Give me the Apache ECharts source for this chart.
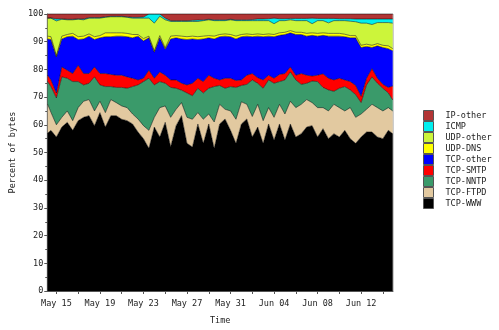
<!DOCTYPE html>
<html>
<head>
<meta charset="utf-8">
<script src="https://cdn.jsdelivr.net/npm/echarts@6/dist/echarts.min.js"></script>
<style>
  html, body { margin: 0; padding: 0; background: #fff; }
  #chart { width: 499px; height: 330px; }
</style>
</head>
<body>
<div id="chart"></div>
<script>
// x positions in days, day 1 = May 15
const days = [0.2, 0.5, 1, 1.5, 2, 2.5, 3, 3.5, 4, 4.5, 5, 5.5, 6, 6.5, 7, 7.5, 8, 8.5, 9, 9.5,
  10, 10.5, 11, 11.5, 12, 12.5, 13, 13.5, 14, 14.5, 15, 15.5, 16, 16.5, 17, 17.5, 18, 18.5, 19, 19.5,
  20, 20.5, 21, 21.5, 22, 22.5, 23, 23.5, 24, 24.5, 25, 25.5, 26, 26.5, 27, 27.5, 28, 28.5, 29, 29.5,
  30, 30.5, 31, 31.5, 31.9]

const labelDays = [1, 5, 9, 13, 17, 21, 25, 29]
const tickLabels = ['May 15', 'May 19', 'May 23', 'May 27', 'May 31', 'Jun 04', 'Jun 08', 'Jun 12']
const tickDays = [1, 3, 5, 7, 9, 11, 13, 15, 17, 19, 21, 23, 25, 27, 29, 31]

// percent of bytes per protocol
const tcpWww = [57, 58, 55.6, 59.2, 60.9, 58, 61.5, 62.7, 63.3, 59.7, 64.4, 59.2, 63.3, 63.3, 62, 61.5, 60.3, 57.4, 55, 51.5,
  59.2, 55.6, 60.9, 52.1, 59.7, 63.3, 53.3, 52, 60.3, 53.3, 60.3, 51.5, 60.3, 62.1, 58, 53.3, 60.3, 62.1, 55.6, 59.2,
  53.3, 60.3, 54.5, 60.3, 54.5, 60.3, 55.6, 56.8, 59.2, 59.7, 55.6, 58.6, 55, 56.8, 55.6, 58, 55, 53.3, 55.6, 57.4,
  57.4, 55.6, 55, 58, 56.8]
const tcpFtpd = [10.4, 6.5, 4.4, 3.5, 4.1, 3.5, 4.7, 5.8, 5.8, 5.3, 4.1, 5.2, 5.8, 4.7, 4.8, 4.7, 3.6, 4.7, 4.7, 6.5,
  3.5, 10.6, 5.9, 10.6, 5.9, 4.7, 9.4, 10, 4.1, 8.7, 3.6, 9.5, 7.1, 3.5, 7, 8.7, 8, 5.3, 7.4, 8.2,
  8.2, 5.9, 8.2, 7.1, 9.4, 8.2, 10.6, 10.6, 9.9, 8.3, 10.6, 7.6, 10, 10.6, 10.6, 7, 11.2, 9.4, 8.3, 8.2,
  10, 10.6, 10, 8.2, 8.2]
const tcpNntp = [8.2, 9.3, 9.7, 14.6, 11.8, 14.1, 9.4, 5.9, 5.9, 12.3, 5.9, 9.4, 4.7, 5.5, 6.7, 7.0, 9.9, 12.3, 15.9, 18.8,
  11.7, 9.4, 8.2, 10.8, 7.6, 4.5, 8.8, 8.5, 8.8, 9.5, 9.3, 12.8, 6.8, 7.6, 8.8, 11.5, 5.9, 7.2, 13.2, 7.6,
  11.7, 10, 12.3, 8.2, 12.3, 10.6, 10, 7.2, 5.9, 7.8, 9.4, 7.3, 7.6, 4.7, 7, 8.8, 6.4, 8.2, 4.1, 8.8,
  9.9, 8.8, 8.2, 5.3, 4]
const tcpSmtp = [2.3, 2.4, 1.8, 3.6, 2.9, 2.9, 5.9, 4.1, 3.5, 3.6, 4.1, 4.7, 4.4, 4.4, 4.4, 4.1, 3.0, 1.8, 1.2, 2.9,
  2.4, 3.5, 2.9, 2.7, 3.0, 2.5, 2.9, 4.5, 3.6, 4.1, 4.7, 3.0, 2.0, 3.6, 3, 2.5, 2, 3.3, 2.3, 2,
  3, 1.7, 1.8, 2.6, 2.3, 1.8, 1.7, 3.9, 2.9, 1.8, 2.3, 4.9, 4.2, 4.1, 3.6, 2.4, 3, 3.3, 2.3, 2.4,
  3, 1.8, 1.4, 2, 5]
const tcpOther = [13.1, 14.6, 13.0, 10.1, 12.1, 13.5, 9.3, 12.5, 13.5, 9.9, 12.9, 13.3, 13.6, 14.1, 14.1, 14.5, 14.6, 15.8, 13.5, 11.7,
  9.4, 12.3, 9.4, 14.8, 15.2, 16.0, 16.4, 16, 14, 15.4, 13.5, 14.2, 15.6, 15.2, 15, 15, 15.6, 14.1, 13.3, 15,
  15.6, 14.1, 15, 14.1, 14.1, 12.3, 14.7, 14.1, 14.1, 14.7, 14.1, 13.9, 15.2, 15.8, 15.2, 15.6, 15.8, 17.2, 17.6, 11.5,
  7.6, 11.7, 13.3, 14, 12.7]
const udpDns = [1.0, 1.0, 0.5, 1.0, 0.8, 1.0, 1.0, 1.0, 0.8, 1.0, 0.8, 1.4, 1.4, 1.2, 1.2, 1.2, 1.2, 0.6, 0.8, 0.6,
  0.5, 0.8, 0.5, 1.0, 0.8, 1.0, 1.0, 1.0, 1.0, 1.0, 0.8, 1.0, 0.8, 0.8, 0.8, 1.0, 0.8, 0.8, 0.8, 0.8,
  0.8, 0.8, 0.8, 0.9, 0.8, 0.8, 0.8, 0.8, 1, 0.9, 1, 0.9, 1, 1, 1, 0.9, 0.8, 0.8, 0.8, 0.8,
  0.8, 0.8, 0.8, 1, 0.8]
const udpOther = [6.5, 6.7, 12.5, 6.1, 5.3, 4.9, 6.3, 5.9, 5.7, 6.7, 6.3, 5.6, 5.8, 5.8, 5.8, 5.8, 5.9, 5.9, 7.4, 6.5,
  10.0, 7.0, 10.1, 5.3, 5.1, 5.3, 5.5, 5.3, 5.5, 5.6, 5.7, 5.6, 5.0, 4.8, 5.3, 5.6, 5, 4.8, 5, 4.8,
  5, 4.8, 3.9, 4.4, 4.2, 3.9, 4.2, 4.2, 4.6, 3.3, 4.6, 4.4, 3.8, 4.6, 4.6, 4.9, 5.2, 5, 8, 7.6,
  7.5, 7.6, 8.2, 8.4, 9.2]
const icmp = [0, 0.1, 0.7, 0.2, 0.2, 0.2, 0.2, 0.3, 0.2, 0.2, 0.2, 0.2, 0.2, 0.2, 0.2, 0.2, 0.3, 0.3, 0.4, 1.5,
  3.3, 0.8, 0.6, 0.3, 0.3, 0.3, 0.3, 0.4, 0.5, 0.3, 0.2, 0.3, 0.3, 0.3, 0.2, 0.3, 0.3, 0.3, 0.4, 0.6,
  0.6, 0.7, 2, 0.7, 0.7, 0.5, 0.8, 0.8, 0.8, 2, 0.8, 0.8, 1.6, 0.8, 0.7, 0.7, 0.9, 1, 1.5, 1.5,
  2, 1.3, 1.3, 1.3, 1.5]
const ipOther = [1.5, 1.4, 1.8, 1.7, 1.9, 1.9, 1.7, 1.8, 1.3, 1.3, 1.3, 1.0, 0.8, 0.8, 0.8, 1.0, 1.2, 1.2, 1.1, 0,
  0, 0, 1.5, 2.4, 2.4, 2.4, 2.4, 2.3, 2.2, 2.1, 1.9, 2.1, 2.1, 2.1, 1.9, 2.1, 2.1, 2.1, 2, 1.8,
  1.8, 1.7, 1.5, 1.7, 1.7, 1.6, 1.6, 1.6, 1.6, 1.5, 1.6, 1.6, 1.6, 1.6, 1.7, 1.7, 1.7, 1.8, 1.8, 1.8,
  1.8, 1.8, 1.8, 1.8, 1.8]

// bottom to top
const layers = [
  { name: 'TCP-WWW', data: tcpWww, color: '#000000' },
  { name: 'TCP-FTPD', data: tcpFtpd, color: '#e2c9a0' },
  { name: 'TCP-NNTP', data: tcpNntp, color: '#3a9a6a' },
  { name: 'TCP-SMTP', data: tcpSmtp, color: '#ff0000' },
  { name: 'TCP-other', data: tcpOther, color: '#0000ff' },
  { name: 'UDP-DNS', data: udpDns, color: '#ffff00' },
  { name: 'UDP-other', data: udpOther, color: '#ccf53a' },
  { name: 'ICMP', data: icmp, color: '#00eeee' },
  { name: 'IP-other', data: ipOther, color: '#b23535' }
]

const font = 'DejaVu Sans Mono'
const chart = echarts.init(document.getElementById('chart'))

chart.setOption({
  animation: false,
  grid: {
    left: 41, right: 106, top: 14, bottom: 32,
    show: true, borderColor: '#999', borderWidth: 1
  },
  legend: {
    data: layers.map(l => l.name).reverse(),
    orient: 'vertical',
    left: 418,
    top: 105,
    itemWidth: 10,
    itemHeight: 10,
    itemGap: 0,
    icon: 'rect',
    itemStyle: { borderColor: '#555', borderWidth: 1 },
    textStyle: { fontFamily: font, fontSize: 8.5, lineHeight: 9, color: '#222', padding: [0, 0, 0, 7] }
  },
  xAxis: {
    type: 'value',
    min: 0.16,
    max: 31.93,
    name: 'Time',
    nameLocation: 'middle',
    nameGap: 25,
    nameTextStyle: { fontFamily: font, fontSize: 8.5, color: '#222' },
    splitLine: { show: false },
    axisLine: { lineStyle: { color: '#555' } },
    axisTick: { customValues: tickDays, length: 3, lineStyle: { color: '#555' } },
    axisLabel: {
      customValues: labelDays,
      fontFamily: font, fontSize: 8.5, color: '#222', margin: 8,
      formatter: v => tickLabels[labelDays.indexOf(v)] || ''
    }
  },
  yAxis: {
    type: 'value',
    min: 0,
    max: 100,
    interval: 10,
    name: 'Percent of bytes',
    nameLocation: 'middle',
    nameGap: 27,
    nameTextStyle: { fontFamily: font, fontSize: 8.5, color: '#222' },
    splitLine: { show: false },
    axisLine: { show: true, lineStyle: { color: '#555' } },
    axisTick: { show: true, length: 3, lineStyle: { color: '#555' } },
    minorTick: { show: true, splitNumber: 2, length: 2, lineStyle: { color: '#555' } },
    axisLabel: { fontFamily: font, fontSize: 8.5, color: '#222', margin: 4 }
  },
  // value first, day second, so the stack is taken on the percent dimension
  series: layers.map(l => ({
    name: l.name,
    type: 'line',
    stack: 'total',
    symbol: 'none',
    showSymbol: false,
    encode: { x: 1, y: 0 },
    itemStyle: { color: l.color },
    lineStyle: { color: '#000', width: 0.5 },
    areaStyle: { color: l.color, opacity: 1 },
    data: days.map((d, i) => [l.data[i], d])
  }))
})
</script>
</body>
</html>
